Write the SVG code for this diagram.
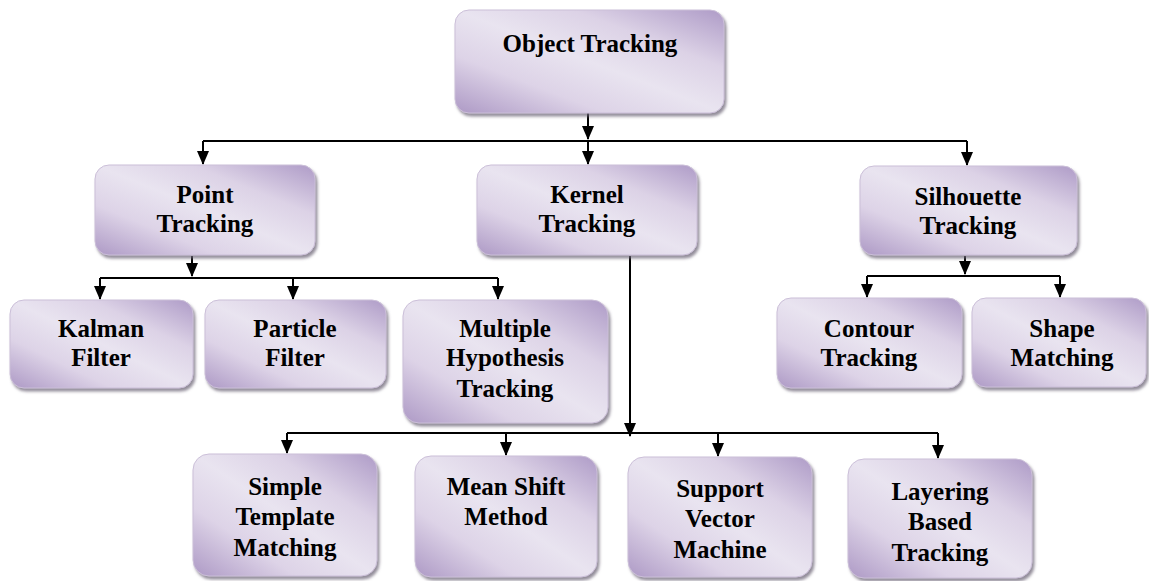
<svg xmlns="http://www.w3.org/2000/svg" width="1149" height="581" viewBox="0 0 1149 581">
<defs>
<linearGradient id="g" x1="0" y1="1" x2="1" y2="0">
<stop offset="0" stop-color="#ad99c5"/>
<stop offset="0.28" stop-color="#ddd3e7"/>
<stop offset="0.5" stop-color="#e9e4f0"/>
<stop offset="0.72" stop-color="#dcd2e6"/>
<stop offset="1" stop-color="#ae9bc7"/>
</linearGradient>
<filter id="sh" x="-10%" y="-10%" width="125%" height="130%">
<feDropShadow dx="2" dy="3" stdDeviation="1.5" flood-color="#6e6878" flood-opacity="0.75"/>
</filter>
<marker id="ah" markerWidth="14" markerHeight="12" refX="13" refY="6" orient="auto" markerUnits="userSpaceOnUse" viewBox="0 0 14 12">
<path d="M0,0 L14,6 L0,12 Z" fill="#000"/>
</marker>
<style>
.box{fill:url(#g);stroke:#cbbfd8;stroke-width:1;filter:url(#sh)}
.t{font-family:"Liberation Serif","Times New Roman",serif;font-weight:bold;font-size:25px;fill:#000;text-anchor:middle}
.c{fill:none;stroke:#000;stroke-width:2}
</style>
</defs>

<g id="connectors">
<line class="c" x1="588" y1="113" x2="588" y2="139" marker-end="url(#ah)"/>
<line class="c" x1="203" y1="141" x2="967" y2="141"/>
<line class="c" x1="203" y1="141" x2="203" y2="164" marker-end="url(#ah)"/>
<line class="c" x1="588" y1="141" x2="588" y2="164" marker-end="url(#ah)"/>
<line class="c" x1="967" y1="141" x2="967" y2="165" marker-end="url(#ah)"/>

<line class="c" x1="192" y1="256" x2="192" y2="276" marker-end="url(#ah)"/>
<line class="c" x1="100" y1="278" x2="498" y2="278"/>
<line class="c" x1="100" y1="278" x2="100" y2="299" marker-end="url(#ah)"/>
<line class="c" x1="293" y1="278" x2="293" y2="299" marker-end="url(#ah)"/>
<line class="c" x1="498" y1="278" x2="498" y2="299" marker-end="url(#ah)"/>

<line class="c" x1="965" y1="256" x2="965" y2="274" marker-end="url(#ah)"/>
<line class="c" x1="867" y1="276" x2="1060" y2="276"/>
<line class="c" x1="867" y1="276" x2="867" y2="297" marker-end="url(#ah)"/>
<line class="c" x1="1060" y1="276" x2="1060" y2="297" marker-end="url(#ah)"/>

<line class="c" x1="630" y1="256" x2="630" y2="436" marker-end="url(#ah)"/>
<line class="c" x1="287" y1="433" x2="938" y2="433"/>
<line class="c" x1="287" y1="433" x2="287" y2="453" marker-end="url(#ah)"/>
<line class="c" x1="506" y1="433" x2="506" y2="455" marker-end="url(#ah)"/>
<line class="c" x1="718" y1="433" x2="718" y2="456" marker-end="url(#ah)"/>
<line class="c" x1="938" y1="433" x2="938" y2="458" marker-end="url(#ah)"/>
</g>

<g id="object-tracking">
<rect class="box" x="455" y="10" width="269" height="103" rx="14"/>
<text class="t" x="590" y="52">Object Tracking</text>
</g>

<g id="point-tracking">
<rect class="box" x="95" y="165" width="220" height="90" rx="14"/>
<text class="t" x="205" y="203">Point</text>
<text class="t" x="205" y="232">Tracking</text>
</g>

<g id="kernel-tracking">
<rect class="box" x="477" y="165" width="220" height="90" rx="14"/>
<text class="t" x="587" y="203">Kernel</text>
<text class="t" x="587" y="232">Tracking</text>
</g>

<g id="silhouette-tracking">
<rect class="box" x="860" y="166" width="217" height="89" rx="14"/>
<text class="t" x="968" y="205">Silhouette</text>
<text class="t" x="968" y="234">Tracking</text>
</g>

<g id="kalman-filter">
<rect class="box" x="10" y="300" width="183" height="88" rx="14"/>
<text class="t" x="101" y="337">Kalman</text>
<text class="t" x="101" y="366">Filter</text>
</g>

<g id="particle-filter">
<rect class="box" x="205" y="300" width="181" height="88" rx="14"/>
<text class="t" x="295" y="337">Particle</text>
<text class="t" x="295" y="366">Filter</text>
</g>

<g id="multiple-hypothesis-tracking">
<rect class="box" x="403" y="300" width="205" height="123" rx="16"/>
<text class="t" x="505" y="337">Multiple</text>
<text class="t" x="505" y="366">Hypothesis</text>
<text class="t" x="505" y="397">Tracking</text>
</g>

<g id="contour-tracking">
<rect class="box" x="777" y="298" width="185" height="90" rx="14"/>
<text class="t" x="869" y="337">Contour</text>
<text class="t" x="869" y="366">Tracking</text>
</g>

<g id="shape-matching">
<rect class="box" x="972" y="298" width="174" height="89" rx="14"/>
<text class="t" x="1062" y="337">Shape</text>
<text class="t" x="1062" y="366">Matching</text>
</g>

<g id="simple-template-matching">
<rect class="box" x="193" y="454" width="184" height="122" rx="16"/>
<text class="t" x="285" y="495">Simple</text>
<text class="t" x="285" y="525">Template</text>
<text class="t" x="285" y="556">Matching</text>
</g>

<g id="mean-shift-method">
<rect class="box" x="415" y="456" width="182" height="121" rx="16"/>
<text class="t" x="506" y="495">Mean Shift</text>
<text class="t" x="506" y="525">Method</text>
</g>

<g id="support-vector-machine">
<rect class="box" x="628" y="457" width="184" height="120" rx="16"/>
<text class="t" x="720" y="497">Support</text>
<text class="t" x="720" y="527">Vector</text>
<text class="t" x="720" y="558">Machine</text>
</g>

<g id="layering-based-tracking">
<rect class="box" x="848" y="459" width="184" height="119" rx="16"/>
<text class="t" x="940" y="500">Layering</text>
<text class="t" x="940" y="530">Based</text>
<text class="t" x="940" y="561">Tracking</text>
</g>
</svg>
